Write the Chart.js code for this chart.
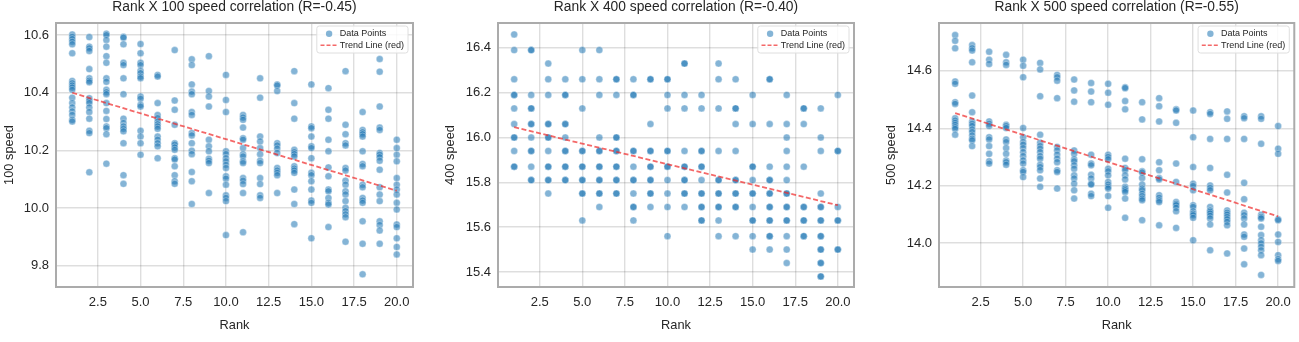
<!DOCTYPE html>
<html>
<head>
<meta charset="utf-8">
<script src="https://cdn.jsdelivr.net/npm/chart.js@4/dist/chart.umd.min.js"></script>
<style>
    html, body { margin: 0; padding: 0; background: #fff; overflow: hidden; }
    #wrap { position: relative; width: 1299px; height: 342px; }
    canvas { position: absolute; top: 0; }
</style>
</head>
<body>
<div id="wrap">
    <canvas id="c100" width="430" height="342" style="left:0"></canvas>
    <canvas id="c400" width="430" height="342" style="left:430px"></canvas>
    <canvas id="c500" width="439" height="342" style="left:860px"></canvas>
</div>
<script>
// ── Data (one inner list per rank) ──
const RANKS = [1, 2, 3, 4, 5, 6, 7, 8, 9, 10, 11, 12, 13, 14, 15, 16, 17, 18, 19, 20];
const X_TICKS = [2.5, 5, 7.5, 10, 12.5, 15, 17.5, 20];

const SPEED_100 = [
    [10.602, 10.594, 10.586, 10.577, 10.568, 10.537, 10.441, 10.433, 10.425, 10.418, 10.410, 10.383, 10.364, 10.349, 10.335, 10.323, 10.306, 10.300],
    [10.593, 10.560, 10.554, 10.545, 10.482, 10.450, 10.442, 10.436, 10.381, 10.372, 10.364, 10.349, 10.333, 10.310, 10.268, 10.260, 10.124],
    [10.605, 10.600, 10.583, 10.560, 10.527, 10.504, 10.450, 10.438, 10.410, 10.402, 10.395, 10.364, 10.337, 10.309, 10.283, 10.277, 10.256, 10.154],
    [10.594, 10.591, 10.568, 10.504, 10.496, 10.450, 10.395, 10.310, 10.295, 10.283, 10.275, 10.266, 10.225, 10.114, 10.084],
    [10.569, 10.537, 10.504, 10.496, 10.476, 10.468, 10.456, 10.450, 10.387, 10.379, 10.358, 10.352, 10.268, 10.248, 10.225, 10.185],
    [10.462, 10.456, 10.364, 10.323, 10.312, 10.300, 10.291, 10.283, 10.275, 10.248, 10.237, 10.225, 10.214, 10.173],
    [10.548, 10.373, 10.341, 10.289, 10.225, 10.220, 10.210, 10.202, 10.173, 10.168, 10.145, 10.114, 10.093, 10.084],
    [10.516, 10.496, 10.429, 10.404, 10.395, 10.333, 10.323, 10.260, 10.252, 10.225, 10.199, 10.187, 10.125, 10.093, 10.014],
    [10.527, 10.406, 10.387, 10.352, 10.237, 10.214, 10.197, 10.171, 10.164, 10.156, 10.052],
    [10.462, 10.375, 10.333, 10.197, 10.187, 10.173, 10.162, 10.150, 10.139, 10.110, 10.102, 10.081, 10.044, 10.035, 10.024, 9.906],
    [10.323, 10.314, 10.306, 10.279, 10.242, 10.237, 10.208, 10.187, 10.179, 10.162, 10.156, 10.104, 10.095, 10.083, 10.052, 9.916],
    [10.450, 10.383, 10.248, 10.231, 10.208, 10.187, 10.164, 10.156, 10.104, 10.083, 10.044, 10.035],
    [10.429, 10.425, 10.406, 10.225, 10.217, 10.206, 10.191, 10.139, 10.130, 10.122, 10.114, 10.052],
    [10.475, 10.364, 10.310, 10.202, 10.194, 10.187, 10.179, 10.145, 10.137, 10.130, 10.122, 10.064, 10.014, 9.944],
    [10.429, 10.283, 10.277, 10.248, 10.214, 10.208, 10.173, 10.122, 10.114, 10.093, 10.064, 10.026, 10.018, 9.895],
    [10.416, 10.341, 10.310, 10.237, 10.197, 10.141, 10.110, 10.064, 10.058, 10.035, 10.018, 10.012, 9.934],
    [10.475, 10.289, 10.256, 10.225, 10.217, 10.139, 10.130, 10.095, 10.081, 10.058, 10.047, 10.024, 10.001, 9.989, 9.978, 9.968, 9.883],
    [10.333, 10.271, 10.263, 10.256, 10.248, 10.197, 10.153, 10.145, 10.081, 10.072, 10.035, 10.026, 10.018, 9.954, 9.876, 9.770],
    [10.517, 10.473, 10.352, 10.279, 10.271, 10.191, 10.185, 10.176, 10.164, 10.133, 10.072, 10.047, 10.024, 9.954, 9.941, 9.922, 9.876],
    [10.237, 10.208, 10.185, 10.162, 10.104, 10.081, 10.064, 10.047, 10.018, 9.995, 9.943, 9.934, 9.895, 9.865, 9.839]
];

// 400 times are recorded on a coarse grid, repeated values = darker dots
const SPEED_400 = [
    [16.46, 16.39, 16.26, 16.19, 16.19, 16.13, 16.06, 16.00, 16.00, 15.94, 15.87, 15.87],
    [16.39, 16.39, 16.19, 16.13, 16.13, 16.06, 16.06, 16.00, 15.94, 15.94, 15.87, 15.81, 15.81],
    [16.33, 16.26, 16.19, 16.06, 16.06, 16.00, 16.00, 15.94, 15.87, 15.87, 15.81, 15.81, 15.75],
    [16.26, 16.19, 16.19, 16.06, 16.06, 16.00, 15.94, 15.94, 15.87, 15.87, 15.81, 15.81],
    [16.39, 16.26, 16.13, 15.94, 15.94, 15.87, 15.87, 15.81, 15.81, 15.75, 15.75, 15.63],
    [16.39, 16.26, 16.19, 16.00, 15.94, 15.94, 15.87, 15.87, 15.81, 15.81, 15.75, 15.75, 15.69],
    [16.26, 16.26, 16.19, 16.00, 16.00, 15.94, 15.94, 15.87, 15.87, 15.81, 15.81, 15.75, 15.75],
    [16.26, 16.19, 16.19, 15.94, 15.94, 15.87, 15.81, 15.81, 15.75, 15.69, 15.69, 15.63],
    [16.26, 16.26, 16.06, 15.94, 15.94, 15.87, 15.87, 15.81, 15.81, 15.75, 15.75, 15.69],
    [16.26, 16.26, 16.19, 16.13, 15.94, 15.94, 15.87, 15.87, 15.81, 15.75, 15.69, 15.56],
    [16.33, 16.33, 16.19, 16.13, 15.94, 15.87, 15.87, 15.81, 15.81, 15.75, 15.75, 15.69],
    [16.19, 16.13, 15.94, 15.94, 15.87, 15.87, 15.81, 15.75, 15.75, 15.69, 15.69, 15.63, 15.63],
    [16.33, 16.26, 16.13, 15.94, 15.81, 15.81, 15.75, 15.75, 15.69, 15.69, 15.63, 15.56],
    [16.26, 16.13, 16.13, 16.06, 15.94, 15.81, 15.81, 15.75, 15.75, 15.69, 15.69, 15.56],
    [16.19, 16.06, 15.87, 15.87, 15.81, 15.75, 15.75, 15.69, 15.63, 15.63, 15.56, 15.50],
    [16.26, 16.26, 16.06, 15.87, 15.81, 15.81, 15.75, 15.75, 15.69, 15.69, 15.63, 15.63, 15.56, 15.56, 15.50],
    [16.19, 16.06, 16.00, 15.94, 15.87, 15.81, 15.75, 15.75, 15.69, 15.69, 15.63, 15.63, 15.56, 15.50, 15.44],
    [16.13, 16.13, 16.06, 15.87, 15.69, 15.69, 15.63, 15.63, 15.56, 15.56],
    [16.13, 16.00, 15.94, 15.75, 15.69, 15.69, 15.63, 15.63, 15.56, 15.56, 15.50, 15.50, 15.44, 15.44, 15.38, 15.38],
    [16.19, 15.94, 15.94, 15.69, 15.63, 15.63, 15.50, 15.50]
];

const SPEED_500 = [
    [14.725, 14.705, 14.679, 14.563, 14.555, 14.491, 14.485, 14.435, 14.427, 14.419, 14.412, 14.404, 14.398, 14.378],
    [14.690, 14.679, 14.671, 14.630, 14.514, 14.456, 14.424, 14.416, 14.408, 14.396, 14.387, 14.375, 14.364, 14.358, 14.338],
    [14.667, 14.639, 14.624, 14.424, 14.416, 14.408, 14.369, 14.361, 14.338, 14.311, 14.285, 14.277],
    [14.656, 14.630, 14.621, 14.412, 14.408, 14.401, 14.361, 14.352, 14.331, 14.311, 14.288, 14.282, 14.273],
    [14.639, 14.618, 14.578, 14.401, 14.369, 14.352, 14.343, 14.331, 14.317, 14.303, 14.288, 14.277, 14.254, 14.248, 14.230],
    [14.628, 14.605, 14.512, 14.378, 14.350, 14.338, 14.329, 14.317, 14.303, 14.294, 14.273, 14.265, 14.254, 14.225, 14.196],
    [14.586, 14.578, 14.566, 14.505, 14.335, 14.323, 14.308, 14.294, 14.282, 14.254, 14.248, 14.190],
    [14.570, 14.532, 14.493, 14.323, 14.311, 14.292, 14.285, 14.271, 14.259, 14.236, 14.225, 14.207, 14.184, 14.155],
    [14.558, 14.528, 14.491, 14.308, 14.277, 14.271, 14.238, 14.225, 14.207, 14.204, 14.172, 14.164],
    [14.555, 14.524, 14.482, 14.308, 14.300, 14.292, 14.259, 14.250, 14.236, 14.213, 14.204, 14.196, 14.190, 14.164, 14.123],
    [14.543, 14.540, 14.495, 14.466, 14.294, 14.262, 14.254, 14.236, 14.222, 14.196, 14.190, 14.184, 14.178, 14.155, 14.088],
    [14.491, 14.431, 14.292, 14.250, 14.246, 14.227, 14.204, 14.190, 14.184, 14.172, 14.164, 14.155, 14.149, 14.080],
    [14.505, 14.477, 14.424, 14.282, 14.254, 14.227, 14.222, 14.167, 14.158, 14.149, 14.143, 14.062],
    [14.466, 14.462, 14.419, 14.277, 14.213, 14.143, 14.137, 14.132, 14.123, 14.111, 14.053],
    [14.462, 14.369, 14.265, 14.207, 14.199, 14.184, 14.132, 14.126, 14.111, 14.103, 14.097, 14.088, 14.010],
    [14.456, 14.450, 14.363, 14.262, 14.201, 14.192, 14.184, 14.126, 14.114, 14.109, 14.103, 14.095, 14.086, 14.065, 13.975],
    [14.459, 14.433, 14.363, 14.238, 14.176, 14.114, 14.106, 14.099, 14.091, 14.083, 14.074, 14.062, 13.964],
    [14.442, 14.435, 14.363, 14.210, 14.153, 14.106, 14.097, 14.086, 14.065, 14.030, 14.022, 13.981, 13.926],
    [14.442, 14.433, 14.346, 14.099, 14.091, 14.086, 14.057, 14.028, 14.010, 13.999, 13.987, 13.975, 13.958, 13.889],
    [14.408, 14.329, 14.311, 14.083, 14.080, 14.030, 14.004, 13.958, 13.944, 13.938]
];

// Trend line end points (rank 1 and rank 20)
const TREND_X = [1, 20];
const TREND_100 = [10.400, 10.060];
const TREND_400 = [16.046, 15.698];
const TREND_500 = [14.453, 14.093];

const Y_TICKS_100 = [9.8, 10.0, 10.2, 10.4, 10.6];
const Y_TICKS_400 = [15.4, 15.6, 15.8, 16.0, 16.2, 16.4];
const Y_TICKS_500 = [14.0, 14.2, 14.4, 14.6];

// ── Styling ──
const FONT = '"Liberation Sans", Arial, Helvetica, sans-serif';
const TEXT = "#262626";
const POINT_FILL = "rgba(31,119,180,0.55)";
const POINT_EDGE = "rgba(255,255,255,0.55)";
const TREND_RED = "rgba(240,40,40,0.7)";

Chart.defaults.font.family = FONT;
Chart.defaults.color = TEXT;

function toPoints(rows) {
    const pts = [];
    rows.forEach((vals, i) => vals.forEach(v => pts.push({ x: RANKS[i], y: v })));
    return pts;
}

function toLine(xs, ys) {
    return xs.map((x, i) => ({ x: x, y: ys[i] }));
}

// frame around the axes + matplotlib-style legend inside top-right corner
const axesDecor = {
    id: "axesDecor",
    afterDatasetsDraw(chart) {
        const { ctx, chartArea: a } = chart;
        ctx.save();
        ctx.strokeStyle = "#ababab";
        ctx.lineWidth = 2;
        ctx.strokeRect(a.left, a.top, a.right - a.left, a.bottom - a.top);

        const sets = chart.data.datasets;
        ctx.font = "9px " + FONT;
        const textW = Math.max(...sets.map(d => ctx.measureText(d.label).width));
        const w = textW + 27, h = 27;
        const x = a.right - 5 - w, y = a.top + 3;

        ctx.beginPath();
        if (ctx.roundRect) ctx.roundRect(x, y, w, h, 2.5); else ctx.rect(x, y, w, h);
        ctx.fillStyle = "rgba(255,255,255,0.85)";
        ctx.fill();
        ctx.strokeStyle = "#dedede";
        ctx.lineWidth = 1;
        ctx.stroke();

        const row1 = y + 7.7, row2 = y + 19.3;
        ctx.beginPath();
        ctx.arc(x + 12.3, row1, 3.2, 0, Math.PI * 2);
        ctx.fillStyle = POINT_FILL;
        ctx.fill();

        ctx.beginPath();
        ctx.setLineDash([4, 2]);
        ctx.strokeStyle = TREND_RED;
        ctx.lineWidth = 1.6;
        ctx.moveTo(x + 3.7, row2);
        ctx.lineTo(x + 20.5, row2);
        ctx.stroke();
        ctx.setLineDash([]);

        ctx.fillStyle = TEXT;
        ctx.textBaseline = "middle";
        ctx.textAlign = "left";
        ctx.fillText(sets[0].label, x + 23, row1);
        ctx.fillText(sets[1].label, x + 23, row2);
        ctx.restore();
    }
};

function drawPanel(cfg) {
    return new Chart(document.getElementById(cfg.canvas), {
        type: "scatter",
        data: {
            datasets: [{
                label: "Data Points",
                data: toPoints(cfg.speeds),
                backgroundColor: POINT_FILL,
                borderColor: POINT_EDGE,
                borderWidth: 0.6,
                pointRadius: 3.5,
                order: 2
            }, {
                label: "Trend Line (red)",
                type: "line",
                data: toLine(TREND_X, cfg.trend),
                borderColor: TREND_RED,
                borderWidth: 1.8,
                borderDash: [5, 2.5],
                pointRadius: 0,
                fill: false,
                order: 1
            }]
        },
        options: {
            responsive: false,
            animation: false,
            events: [],
            layout: { padding: { left: 0, right: cfg.rightPad, top: 0, bottom: 0 } },
            plugins: {
                legend: { display: false },
                tooltip: { enabled: false },
                title: {
                    display: true,
                    text: cfg.title,
                    fullSize: false,
                    color: TEXT,
                    font: { size: 13.8, weight: "normal", lineHeight: 1 },
                    padding: { top: 0.5, bottom: 8.7 }
                }
            },
            scales: {
                x: {
                    type: "linear",
                    min: 0.05,
                    max: 20.95,
                    afterBuildTicks: s => { s.ticks = X_TICKS.map(v => ({ value: v })); },
                    afterFit: s => { s.height = 55; },
                    grid: { color: "rgba(0,0,0,0.13)", lineWidth: 1.4, drawTicks: false },
                    border: { display: false },
                    ticks: { padding: 8, font: { size: 13 }, color: TEXT, callback: v => v.toFixed(1) },
                    title: { display: true, text: "Rank", color: TEXT, font: { size: 12.8 }, padding: { top: 0, bottom: 9 } }
                },
                y: {
                    type: "linear",
                    min: cfg.yMin,
                    max: cfg.yMax,
                    afterBuildTicks: s => { s.ticks = cfg.yTicks.map(v => ({ value: v })); },
                    afterFit: s => { s.width = cfg.yAxisWidth; },
                    grid: { color: "rgba(0,0,0,0.13)", lineWidth: 1.4, drawTicks: false },
                    border: { display: false },
                    ticks: { padding: 7, font: { size: 13 }, color: TEXT, callback: v => v.toFixed(1) },
                    title: { display: true, text: cfg.yLabel, color: TEXT, font: { size: 12.8 }, padding: { top: cfg.yTitlePad, bottom: 0 } }
                }
            }
        },
        plugins: [axesDecor]
    });
}

drawPanel({
    canvas: "c100", title: "Rank X 100 speed correlation (R=-0.45)", yLabel: "100 speed",
    speeds: SPEED_100, trend: TREND_100, yTicks: Y_TICKS_100, yMin: 9.726, yMax: 10.642,
    yAxisWidth: 56, rightPad: 17, yTitlePad: 1.5
});
drawPanel({
    canvas: "c400", title: "Rank X 400 speed correlation (R=-0.40)", yLabel: "400 speed",
    speeds: SPEED_400, trend: TREND_400, yTicks: Y_TICKS_400, yMin: 15.333, yMax: 16.511,
    yAxisWidth: 68, rightPad: 6, yTitlePad: 12.5
});
drawPanel({
    canvas: "c500", title: "Rank X 500 speed correlation (R=-0.55)", yLabel: "500 speed",
    speeds: SPEED_500, trend: TREND_500, yTicks: Y_TICKS_500, yMin: 13.847, yMax: 14.767,
    yAxisWidth: 79, rightPad: 3, yTitlePad: 24
});
</script>
</body>
</html>
